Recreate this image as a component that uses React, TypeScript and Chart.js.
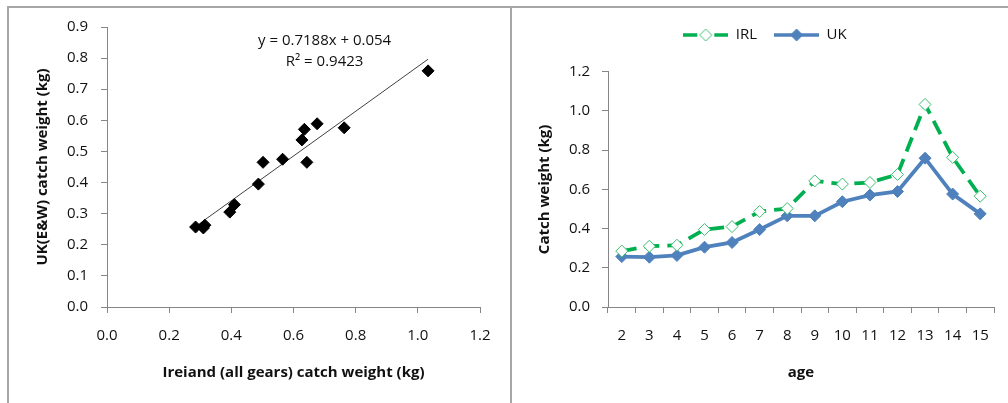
import React, { useEffect, useRef } from 'react';
import { Chart, registerables } from 'chart.js';

Chart.register(...registerables);

// ---------- data ----------
const AGES = ['2', '3', '4', '5', '6', '7', '8', '9', '10', '11', '12', '13', '14', '15'];
const IRL = [0.285, 0.31, 0.315, 0.395, 0.41, 0.487, 0.502, 0.643, 0.627, 0.635, 0.676, 1.033, 0.763, 0.565];
const UK = [0.257, 0.254, 0.263, 0.305, 0.329, 0.395, 0.465, 0.465, 0.537, 0.571, 0.589, 0.759, 0.576, 0.475];

const TREND_SLOPE = 0.7188;
const TREND_INTERCEPT = 0.054;
const EQ_TEXT = 'y = 0.7188x + 0.054';
const R2_TEXT = 'R\u00B2 = 0.9423';
const EQ_POS = [0.70, 0.855];
const R2_POS = [0.70, 0.787];

const SCATTER_X_TITLE = 'Ireiand (all gears) catch weight (kg)';
const SCATTER_Y_TITLE = 'UK(E&W) catch weight (kg)';
const LINE_X_TITLE = 'age';
const LINE_Y_TITLE = 'Catch weight (kg)';
const SERIES_NAMES = ['IRL', 'UK'];

// ---------- styles ----------
const FONT = '"Open Sans", sans-serif';
const TEXT = '#111';
const AXIS = '#868686';
const GREEN = '#00b050';
const GREEN_MARK = '#3cbc70';
const BLUE = '#4f81bd';

function legendIcon(color: string, dashed: boolean, markFill: string, markStroke: string) {
  const c = document.createElement('canvas');
  c.width = 45;
  c.height = 16;
  const g = c.getContext('2d')!;
  g.strokeStyle = color;
  g.lineWidth = 3.5;
  g.beginPath();
  if (dashed) {
    g.moveTo(0, 8); g.lineTo(14, 8);
    g.moveTo(31, 8); g.lineTo(45, 8);
  } else {
    g.moveTo(0, 8); g.lineTo(45, 8);
  }
  g.stroke();
  g.beginPath();
  g.moveTo(16.5, 8); g.lineTo(22.5, 2); g.lineTo(28.5, 8); g.lineTo(22.5, 14);
  g.closePath();
  g.fillStyle = markFill;
  g.fill();
  g.lineWidth = 1;
  g.strokeStyle = markStroke;
  g.stroke();
  return c;
}

const eqPlugin = {
  id: 'eqLabel',
  afterDatasetsDraw(chart: any) {
    const { ctx, scales } = chart;
    const x = scales.x, y = scales.y;
    ctx.save();
    ctx.font = `15px ${FONT}`;
    ctx.fillStyle = TEXT;
    ctx.textAlign = 'center';
    ctx.textBaseline = 'middle';
    ctx.fillText(EQ_TEXT, x.getPixelForValue(EQ_POS[0]), y.getPixelForValue(EQ_POS[1]));
    ctx.fillText(R2_TEXT, x.getPixelForValue(R2_POS[0]), y.getPixelForValue(R2_POS[1]));
    ctx.restore();
  },
};

const tickFont = { family: FONT, size: 15 };
const titleFont = { family: FONT, size: 15, weight: 'bold' as const };
const gridOpts = { display: true, drawOnChartArea: false, drawTicks: true, tickLength: 6, color: AXIS };
const borderOpts = { display: true, color: AXIS, width: 1 };

export default function App() {
  const leftRef = useRef<HTMLCanvasElement>(null);
  const rightRef = useRef<HTMLCanvasElement>(null);

  useEffect(() => {
    const points = IRL.map((x, i) => ({ x, y: UK[i] }));
    const xMin = Math.min(...IRL);
    const xMax = Math.max(...IRL);
    const trend = [
      { x: xMin, y: TREND_SLOPE * xMin + TREND_INTERCEPT },
      { x: xMax, y: TREND_SLOPE * xMax + TREND_INTERCEPT },
    ];

    const left = new Chart(leftRef.current!, {
      type: 'scatter',
      data: {
        datasets: [
          {
            data: points,
            pointStyle: 'rectRot',
            pointRadius: 6,
            pointBackgroundColor: '#000',
            pointBorderColor: '#000',
            pointBorderWidth: 1,
          },
          {
            type: 'line',
            data: trend,
            borderColor: '#404040',
            borderWidth: 1,
            pointRadius: 0,
            showLine: true,
          } as any,
        ],
      },
      options: {
        responsive: false,
        animation: false,
        devicePixelRatio: 1,
        layout: { padding: { left: 0, right: 30, top: 27, bottom: 0 } },
        plugins: { legend: { display: false }, tooltip: { enabled: false } },
        scales: {
          x: {
            type: 'linear',
            min: 0,
            max: 1.2,
            ticks: {
              stepSize: 0.2,
              callback: (v: any) => Number(v).toFixed(1),
              font: tickFont,
              color: TEXT,
              padding: 14,
              maxRotation: 0,
            },
            grid: gridOpts,
            border: borderOpts,
            title: { display: true, text: SCATTER_X_TITLE, font: titleFont, color: TEXT, padding: { top: 0, bottom: 21 } },
            afterFit: (s: any) => { s.height = 96; },
          },
          y: {
            type: 'linear',
            min: 0,
            max: 0.9,
            ticks: {
              stepSize: 0.1,
              callback: (v: any) => Number(v).toFixed(1),
              font: tickFont,
              color: TEXT,
              padding: 13,
            },
            grid: gridOpts,
            border: borderOpts,
            title: { display: true, text: SCATTER_Y_TITLE, font: titleFont, color: TEXT, padding: { top: 34, bottom: 0 } },
            afterFit: (s: any) => { s.width = 107; },
          },
        },
      } as any,
      plugins: [eqPlugin],
    });

    const icons = [
      legendIcon(GREEN, true, '#fff', GREEN_MARK),
      legendIcon(BLUE, false, BLUE, BLUE),
    ];

    const right = new Chart(rightRef.current!, {
      type: 'line',
      data: {
        labels: AGES,
        datasets: [
          {
            label: SERIES_NAMES[0],
            data: IRL,
            borderColor: GREEN,
            borderWidth: 3.8,
            borderDash: [15, 8],
            pointStyle: 'rectRot',
            pointRadius: 6,
            pointBackgroundColor: '#fff',
            pointBorderColor: GREEN_MARK,
            pointBorderWidth: 1,
            tension: 0,
          },
          {
            label: SERIES_NAMES[1],
            data: UK,
            borderColor: BLUE,
            borderWidth: 3.8,
            pointStyle: 'rectRot',
            pointRadius: 6,
            pointBackgroundColor: BLUE,
            pointBorderColor: BLUE,
            pointBorderWidth: 1,
            tension: 0,
          },
        ],
      },
      options: {
        responsive: false,
        animation: false,
        devicePixelRatio: 1,
        layout: { padding: { left: 24, right: 14, top: 10.5, bottom: 0 } },
        plugins: {
          tooltip: { enabled: false },
          title: { display: true, text: '', font: { size: 16 }, padding: 0, weight: 500 } as any,
          legend: {
            display: true,
            position: 'top',
            labels: {
              usePointStyle: true,
              pointStyleWidth: 45,
              padding: 17,
              color: TEXT,
              font: { family: FONT, size: 15 },
              generateLabels: (chart: any) =>
                chart.data.datasets.map((ds: any, i: number) => ({
                  text: ds.label,
                  pointStyle: icons[i],
                  fillStyle: ds.borderColor,
                  strokeStyle: ds.borderColor,
                  lineWidth: 0,
                  datasetIndex: i,
                  hidden: false,
                  fontColor: TEXT,
                })),
            },
          },
        },
        scales: {
          x: {
            type: 'category',
            offset: true,
            ticks: { font: tickFont, color: TEXT, padding: 14, maxRotation: 0, autoSkip: false },
            grid: { ...gridOpts, offset: true },
            border: borderOpts,
            title: { display: true, text: LINE_X_TITLE, font: titleFont, color: TEXT, padding: { top: 0, bottom: 21 } },
            afterFit: (s: any) => { s.height = 96; },
          },
          y: {
            type: 'linear',
            min: 0,
            max: 1.2,
            ticks: {
              stepSize: 0.2,
              callback: (v: any) => Number(v).toFixed(1),
              font: tickFont,
              color: TEXT,
              padding: 12,
            },
            grid: gridOpts,
            border: borderOpts,
            title: { display: true, text: LINE_Y_TITLE, font: titleFont, color: TEXT, padding: { top: 0, bottom: 0 } },
            afterFit: (s: any) => { s.width = 72; },
          },
        },
      } as any,
    });

    return () => {
      left.destroy();
      right.destroy();
    };
  }, []);

  const line = '#a6a6a6';
  return (
    <div style={{ position: 'absolute', left: 0, top: 0, width: 1008, height: 403, background: '#fff', overflow: 'hidden' }}>
      <canvas ref={leftRef} width={510} height={403} style={{ position: 'absolute', left: 0, top: 0, width: 510, height: 403 }} />
      <canvas ref={rightRef} width={496} height={403} style={{ position: 'absolute', left: 512, top: 0, width: 496, height: 403 }} />
      <div style={{ position: 'absolute', left: 7, top: 6, width: 1001, height: 2, background: line }} />
      <div style={{ position: 'absolute', left: 7, top: 6, width: 2, height: 397, background: line }} />
      <div style={{ position: 'absolute', left: 510, top: 6, width: 2, height: 397, background: line }} />
    </div>
  );
}
